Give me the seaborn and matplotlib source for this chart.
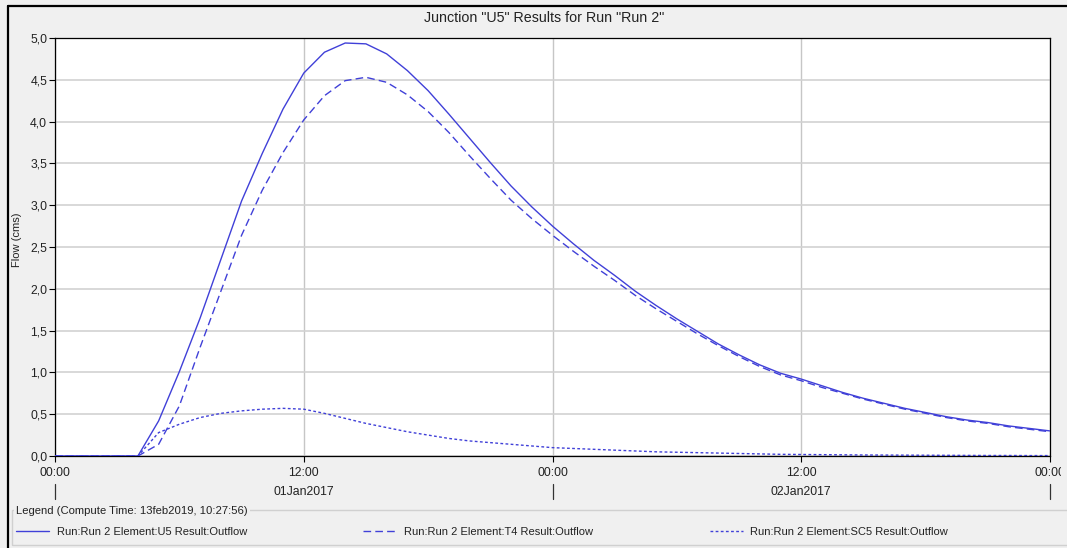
import numpy as np
import pandas as pd
import matplotlib
matplotlib.use("Agg")
import matplotlib.pyplot as plt
import matplotlib.transforms as mtransforms
from matplotlib.lines import Line2D
from matplotlib.patches import Rectangle
import seaborn as sns

# ---------------- data ----------------
hours = list(range(49))  # hourly steps from 01Jan2017 00:00 to 03Jan2017 00:00

u5_outflow = [0, 0, 0, 0, 0, 0.42, 1.01, 1.65, 2.35, 3.05, 3.62, 4.15, 4.58,
              4.83, 4.94, 4.93, 4.81, 4.61, 4.37, 4.09, 3.80, 3.51, 3.23, 2.98,
              2.75, 2.54, 2.34, 2.16, 1.97, 1.80, 1.64, 1.49, 1.34, 1.21, 1.09,
              0.99, 0.92, 0.84, 0.76, 0.69, 0.63, 0.57, 0.52, 0.47, 0.43, 0.40,
              0.36, 0.33, 0.30]

t4_outflow = [0, 0, 0, 0, 0, 0.14, 0.60, 1.30, 1.97, 2.64, 3.18, 3.63, 4.02,
              4.31, 4.49, 4.53, 4.47, 4.32, 4.12, 3.87, 3.59, 3.32, 3.06, 2.84,
              2.64, 2.45, 2.27, 2.10, 1.92, 1.76, 1.61, 1.46, 1.32, 1.19, 1.07,
              0.97, 0.90, 0.82, 0.75, 0.68, 0.62, 0.56, 0.51, 0.46, 0.42, 0.39,
              0.35, 0.32, 0.29]

sc5_outflow = [0, 0, 0, 0, 0, 0.28, 0.38, 0.46, 0.51, 0.54, 0.56, 0.57, 0.56,
               0.51, 0.45, 0.39, 0.34, 0.29, 0.25, 0.21, 0.18, 0.16, 0.14, 0.12,
               0.10, 0.09, 0.08, 0.07, 0.06, 0.05, 0.045, 0.04, 0.035, 0.03,
               0.025, 0.02, 0.018, 0.016, 0.014, 0.012, 0.011, 0.010, 0.009,
               0.008, 0.007, 0.006, 0.006, 0.005, 0.005]

series_labels = ["Run:Run 2 Element:U5 Result:Outflow",
                 "Run:Run 2 Element:T4 Result:Outflow",
                 "Run:Run 2 Element:SC5 Result:Outflow"]

x_tick_hours = [0, 12, 24, 36, 48]
x_tick_labels = ["00:00", "12:00", "00:00", "12:00", "00:00"]
day_label_hours = [12, 36]
day_labels = ["01Jan2017", "02Jan2017"]
day_boundary_hours = [0, 24, 48]
y_ticks = [0.0, 0.5, 1.0, 1.5, 2.0, 2.5, 3.0, 3.5, 4.0, 4.5, 5.0]

title_text = 'Junction "U5" Results for Run "Run 2"'
y_label = "Flow (cms)"
legend_title = "Legend (Compute Time: 13feb2019, 10:27:56)"

# ---------------- style ----------------
sns.set_style("white")
plt.rcParams['font.family'] = ['Liberation Sans', 'DejaVu Sans']

W, H = 1067, 548
PANEL = '#F0F0F0'
LINE_C = '#4040D8'
TXT = '#222222'


def fx(px):
    return px / W


def fy(py):
    return 1 - py / H


fig = plt.figure(figsize=(W / 100, H / 100), dpi=100, facecolor=PANEL)
ax = fig.add_axes([fx(55), fy(456), fx(1050) - fx(55), fy(38) - fy(456)])
ax.set_facecolor('white')

df = pd.DataFrame({
    'hour': hours * 3,
    'flow': u5_outflow + t4_outflow + sc5_outflow,
    'series': ([series_labels[0]] * len(hours) + [series_labels[1]] * len(hours)
               + [series_labels[2]] * len(hours)),
})

sns.lineplot(data=df, x='hour', y='flow', hue='series', style='series',
             hue_order=series_labels, style_order=series_labels,
             palette={s: LINE_C for s in series_labels},
             dashes={series_labels[0]: '', series_labels[1]: (5.5, 3.0),
                     series_labels[2]: (2.0, 1.7)},
             linewidth=1.0, ax=ax, legend=False, zorder=3)

ax.set_xlim(0, 48)
ax.set_ylim(0, 5)
ax.set_xlabel('')
ax.set_ylabel(y_label, fontsize=8.0, color=TXT)
ax.yaxis.set_label_coords((22 - 55) / 995, (456 - 240) / 418)

ax.set_yticks(y_ticks)
ax.set_yticklabels([f"{v:.1f}".replace('.', ',') for v in y_ticks])
ax.set_xticks(x_tick_hours)
ax.set_xticklabels(x_tick_labels)
ax.tick_params(axis='both', direction='out', length=4.6, width=0.8,
               color='black', labelsize=8.8, labelcolor=TXT,
               bottom=True, left=True)
ax.tick_params(axis='x', pad=3.5)
ax.tick_params(axis='y', pad=1.0)

ax.yaxis.grid(True, color='#D2D2D2', linewidth=1.2)
ax.xaxis.grid(True, color='#C6C6C6', linewidth=1.0)
ax.set_axisbelow(True)
for sp in ax.spines.values():
    sp.set_visible(True)
    sp.set_color('black')
    sp.set_linewidth(0.9)

# clip the last tick label at the panel edge, as in the reference
clip = mtransforms.TransformedBbox(
    mtransforms.Bbox.from_extents(0, 0, fx(1061), 1), fig.transFigure)
last = ax.get_xticklabels()[-1]
last.set_clip_box(clip)
last.set_clip_on(True)

# second level of the time axis: dates and day-boundary bars
blend = mtransforms.blended_transform_factory(ax.transData, fig.transFigure)
for h, lab in zip(day_label_hours, day_labels):
    ax.text(h, fy(492), lab, transform=blend, ha='center', va='center',
            fontsize=8.8, color=TXT, clip_on=False)
for h in day_boundary_hours:
    ax.add_line(Line2D([h, h], [fy(484), fy(499)], transform=blend,
                       color='#333333', linewidth=0.9, clip_on=False))

# title
fig.text(fx(544), fy(18), title_text, ha='center', va='center',
         fontsize=10.3, color=TXT)

# outer frame (left and top black edges)
fig.add_artist(Line2D([fx(7.5), fx(7.5)], [fy(6), 0], transform=fig.transFigure,
                      color='black', linewidth=1.6))
fig.add_artist(Line2D([fx(7.5), 1], [fy(6), fy(6)], transform=fig.transFigure,
                      color='black', linewidth=1.6))

# legend group box
fig.add_artist(Rectangle((fx(12), fy(545)), fx(1090) - fx(12), fy(510) - fy(545),
                         transform=fig.transFigure, fill=False,
                         edgecolor='#D0D0D0', linewidth=1.0, clip_on=False))
fig.text(fx(16), fy(511), legend_title, ha='left', va='center', fontsize=8.1,
         color=TXT, bbox=dict(facecolor=PANEL, edgecolor='none', pad=1.5))

handles = ax.get_lines()[:3]
fig.legend(handles=handles, labels=series_labels, ncol=3, mode='expand',
           bbox_to_anchor=(fx(16), fy(540), fx(948) - fx(16), fy(524) - fy(540)),
           loc='center', frameon=False, borderpad=0, borderaxespad=0,
           fontsize=8.0, handlelength=3.0, handletextpad=0.65,
           labelcolor=TXT)

fig.savefig('out.png', dpi=100, facecolor=PANEL)
